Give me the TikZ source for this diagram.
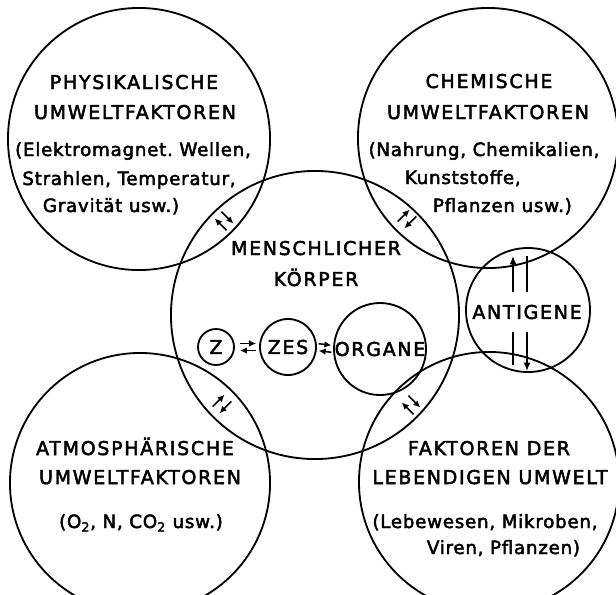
\documentclass[tikz,border=0pt]{standalone}
\usepackage{fontspec}
\setmainfont{DejaVu Sans}[LetterSpace=4, FakeBold=2.5]
\newfontfamily\versalien{DejaVu Sans}[LetterSpace=9, FakeBold=2.5]
\usetikzlibrary{arrows.meta}

\begin{document}
\begin{tikzpicture}[x=0.025cm, y=-0.025cm, line width=1.3pt,
                kreis/.style={circle, draw, inner sep=0pt},
                schrift/.style={font=\fontsize{13}{20}\selectfont, inner sep=0pt, anchor=base},
                titel/.style={schrift, font=\versalien\fontsize{13.5}{20}\selectfont},
                pfeil/.style={-{Latex[length=5pt, width=4.6pt]}, line width=1.1pt},
                tausch/.pic={
                    \draw[pfeil] (-6pt, 3.4pt) -- (6pt, 3.4pt);
                    \draw[pfeil] (6pt, -3.4pt) -- (-6pt, -3.4pt);
                }]
                \useasboundingbox (0,0) rectangle (616,594);
                % Umwelt
                \node[kreis, minimum size=6.55cm] (phys) at (139,139) {};
                \node[kreis, minimum size=6.5cm] (chem) at (488,138) {};
                \node[kreis, minimum size=6.5cm] (atmo) at (140,483) {};
                \node[kreis, minimum size=6.5cm] (leben) at (489,482) {};
                \node[kreis, minimum size=7.2cm] (koerper) at (315,315) {};
                \node[kreis, minimum size=3.1cm] (antigene) at (528,310) {};
                % Koerper innen
                \node[kreis, minimum size=0.9cm, titel, anchor=center] (z) at (216,347) {Z};
                \node[kreis, minimum size=1.4cm, titel, anchor=center] (zes) at (288,347) {ZES};
                \node[kreis, minimum size=2.3cm, titel, anchor=center] (organe) at (380,349) {ORGANE};
                \draw[pfeil, shorten <=3.5pt, shorten >=2pt] ([yshift=2.5pt]z.east) -- ([yshift=2.5pt]zes.west);
                \draw[pfeil, shorten <=2pt, shorten >=3.5pt] ([yshift=-2.5pt]zes.west) -- ([yshift=-2.5pt]z.east);
                \draw[pfeil, shorten <=1.2pt, shorten >=1.2pt] ([yshift=2.5pt]zes.east) -- ([yshift=2.5pt]organe.west);
                \draw[pfeil, shorten <=1.2pt, shorten >=1.2pt] ([yshift=-2.5pt]organe.west) -- ([yshift=-2.5pt]zes.east);
                % Austausch
                \pic[rotate=-45] (tl) at (224,221) {tausch};
                \pic[rotate=45] (tr) at (407,219) {tausch};
                \pic[rotate=45] (bl) at (222,404) {tausch};
                \pic[rotate=-45] (br) at (411,405) {tausch};
                \coordinate (agu1) at (513,365);
                \coordinate (ago1) at (513,256);
                \coordinate (ago2) at (527,256);
                \coordinate (agu2) at (527,371);
                \draw[pfeil, -{Latex[length=6pt, width=5pt]}] (agu1) -- (ago1);
                \draw[pfeil, -{Latex[length=6pt, width=5pt]}] (ago2) -- (agu2);
                \node[titel, anchor=center, fill=white, inner xsep=1pt, inner ysep=9pt] (agtext) at (527,312) {ANTIGENE};
                % Beschriftung
                \node[titel] (phys1) at (134,89) {PHYSIKALISCHE};
                \node[titel] (phys2) at (135,119) {UMWELTFAKTOREN};
                \node[schrift] (phys3) at (133,156) {(Elektromagnet.\ Wellen,};
                \node[schrift] (phys4) at (129,185) {Strahlen, Temperatur,};
                \node[schrift, anchor=base west] (phys5) at (42,212) {Gravität usw.)};
                \node[titel] (chem1) at (489,88) {CHEMISCHE};
                \node[titel] (chem2) at (488,119) {UMWELTFAKTOREN};
                \node[schrift] (chem3) at (484,156) {(Nahrung, Chemikalien,};
                \node[schrift, anchor=base west] (chem4) at (404,184) {Kunststoffe,};
                \node[schrift, anchor=base west] (chem5) at (432,212) {Pflanzen usw.)};
                \node[titel] (koerper1) at (316,255) {MENSCHLICHER};
                \node[titel] (koerper2) at (316,286) {KÖRPER};
                \node[titel] (atmo1) at (135,455) {ATMOSPHÄRISCHE};
                \node[titel] (atmo2) at (140,484) {UMWELTFAKTOREN};
                \node[schrift] (atmo3) at (141,528) {(O\textsubscript{2}, N, CO\textsubscript{2} usw.)};
                \node[titel] (leben1) at (489,455) {FAKTOREN DER};
                \node[titel] (leben2) at (490,484) {LEBENDIGEN UMWELT};
                \node[schrift] (leben3) at (485,528) {(Lebewesen, Mikroben,};
                \node[schrift, anchor=base west] (leben4) at (426,554) {Viren, Pflanzen)};
            \end{tikzpicture}
\end{document}
